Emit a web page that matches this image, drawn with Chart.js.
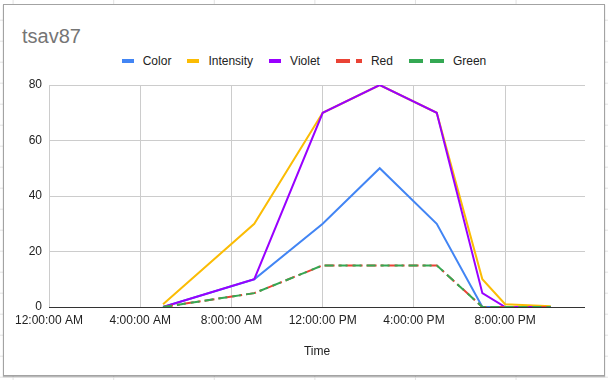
<!DOCTYPE html>
<html>
<head>
<meta charset="utf-8">
<script src="https://cdn.jsdelivr.net/npm/chart.js@4.4.1/dist/chart.umd.min.js"></script>
<style>
    html, body { margin: 0; padding: 0; }
    body {
        width: 608px;
        height: 380px;
        position: relative;
        overflow: hidden;
        background-color: #fff;
        /* spreadsheet cells behind the chart */
        background-image: linear-gradient(to right, #e2e2e2 1px, transparent 1px),
                          linear-gradient(to bottom, #e2e2e2 1px, transparent 1px);
        background-size: 100.6px 21px;
        background-position: 12.6px 19.7px;
        font-family: 'Liberation Sans', Arial, sans-serif;
    }
    #frame {
        position: absolute;
        left: 3px;
        top: 4px;
        width: 600px;
        height: 370px;
        border: 1px solid #a3a3a3;
        background: #fff;
        box-shadow: 0 1px 1px rgba(0, 0, 0, 0.25);
    }
    #title {
        position: absolute;
        left: 22px;
        top: 26px;
        font-size: 20px;
        line-height: 20px;
        color: #757575;
    }
    #legend {
        position: absolute;
        left: 0;
        top: 54px;
        width: 608px;
        display: flex;
        justify-content: center;
        font-size: 12px;
        line-height: 14px;
        color: #222;
    }
    .item { display: flex; align-items: center; margin: 0 8px; }
    .marker { display: flex; margin-right: 9px; }
    .marker span { display: block; height: 4px; }
    #chart { position: absolute; left: 0; top: 0; }
</style>
</head>
<body>
<div id="frame"></div>
<div id="title">tsav87</div>
<div id="legend"></div>
<canvas id="chart" width="608" height="380"></canvas>
<script>
// Data
const times = ['5:00', '9:00', '12:00', '14:30', '17:00', '19:00', '20:00', '22:00'];
const colorValues = [0, 10, 30, 50, 30, 0, 0, 0];
const intensityValues = [1, 30, 70, 80, 70, 10, 1, 0.3];
const violetValues = [0, 10, 70, 80, 70, 5, 0, 0];
const redValues = [0, 5, 15, 15, 15, 0, 0, 0];
const greenValues = [0, 5, 15, 15, 15, 0, 0, 0];

const xTickHours = [0, 4, 8, 12, 16, 20];
const xTickLabels = ['12:00:00 AM', '4:00:00 AM', '8:00:00 AM', '12:00:00 PM', '4:00:00 PM', '8:00:00 PM'];

// "14:30" -> 14.5
function toHours(t) {
    const [h, m] = t.split(':').map(Number);
    return h + m / 60;
}

function points(values) {
    return values.map((v, i) => ({ x: toHours(times[i]), y: v }));
}

// later series sit on top, like in Sheets
const series = [
    { label: 'Color', data: colorValues, color: '#4285F4', dash: [], legend: [12] },
    { label: 'Intensity', data: intensityValues, color: '#FBBC04', dash: [], legend: [12] },
    { label: 'Violet', data: violetValues, color: '#9900FF', dash: [], legend: [12] },
    { label: 'Red', data: redValues, color: '#EA4335', dash: [10, 4, 3, 4], legend: [14, 6, 6] },
    { label: 'Green', data: greenValues, color: '#34A853', dash: [9, 5], legend: [14, 7, 14] }
];

// Legend
const legend = document.getElementById('legend');
series.forEach(s => {
    const item = document.createElement('div');
    item.className = 'item';
    const marker = document.createElement('div');
    marker.className = 'marker';
    s.legend.forEach((w, i) => {
        const seg = document.createElement('span');
        seg.style.width = w + 'px';
        seg.style.background = i % 2 === 0 ? s.color : 'transparent';
        marker.appendChild(seg);
    });
    const text = document.createElement('span');
    text.textContent = s.label;
    item.appendChild(marker);
    item.appendChild(text);
    legend.appendChild(item);
});

const font = { family: "'Liberation Sans', Arial, sans-serif", size: 12 };

const ctx = document.getElementById('chart').getContext('2d');
const chart = new Chart(ctx, {
    type: 'line',
    data: {
        datasets: series.map((s, i) => ({
            label: s.label,
            data: points(s.data),
            borderColor: s.color,
            backgroundColor: s.color,
            borderWidth: 2,
            borderDash: s.dash,
            pointRadius: 0,
            tension: 0,
            order: series.length - i
        }))
    },
    options: {
        responsive: false,
        animation: false,
        devicePixelRatio: 1,
        layout: { padding: { top: 85, right: 23, bottom: 0, left: 0 } },
        plugins: {
            legend: { display: false },
            tooltip: { enabled: false }
        },
        scales: {
            x: {
                type: 'linear',
                min: 0,
                max: 23.5,
                afterBuildTicks: scale => {
                    scale.ticks = xTickHours.map(h => ({ value: h }));
                },
                afterFit: scale => { scale.height = 73; },
                ticks: {
                    color: '#222',
                    font: font,
                    padding: 6,
                    maxRotation: 0,
                    autoSkip: false,
                    callback: (value, index) => xTickLabels[index]
                },
                grid: { color: '#cccccc', drawTicks: false },
                border: { display: false },
                title: {
                    display: true,
                    text: 'Time',
                    color: '#222',
                    font: font,
                    padding: { top: 0, bottom: 21 }
                }
            },
            y: {
                min: 0,
                max: 80,
                afterFit: scale => { scale.width = 49; },
                ticks: { stepSize: 20, color: '#222', font: font, padding: 7 },
                grid: {
                    drawTicks: false,
                    color: c => c.tick.value === 0 ? '#333333' : '#cccccc'
                },
                border: { display: false }
            }
        }
    }
});
</script>
</body>
</html>
